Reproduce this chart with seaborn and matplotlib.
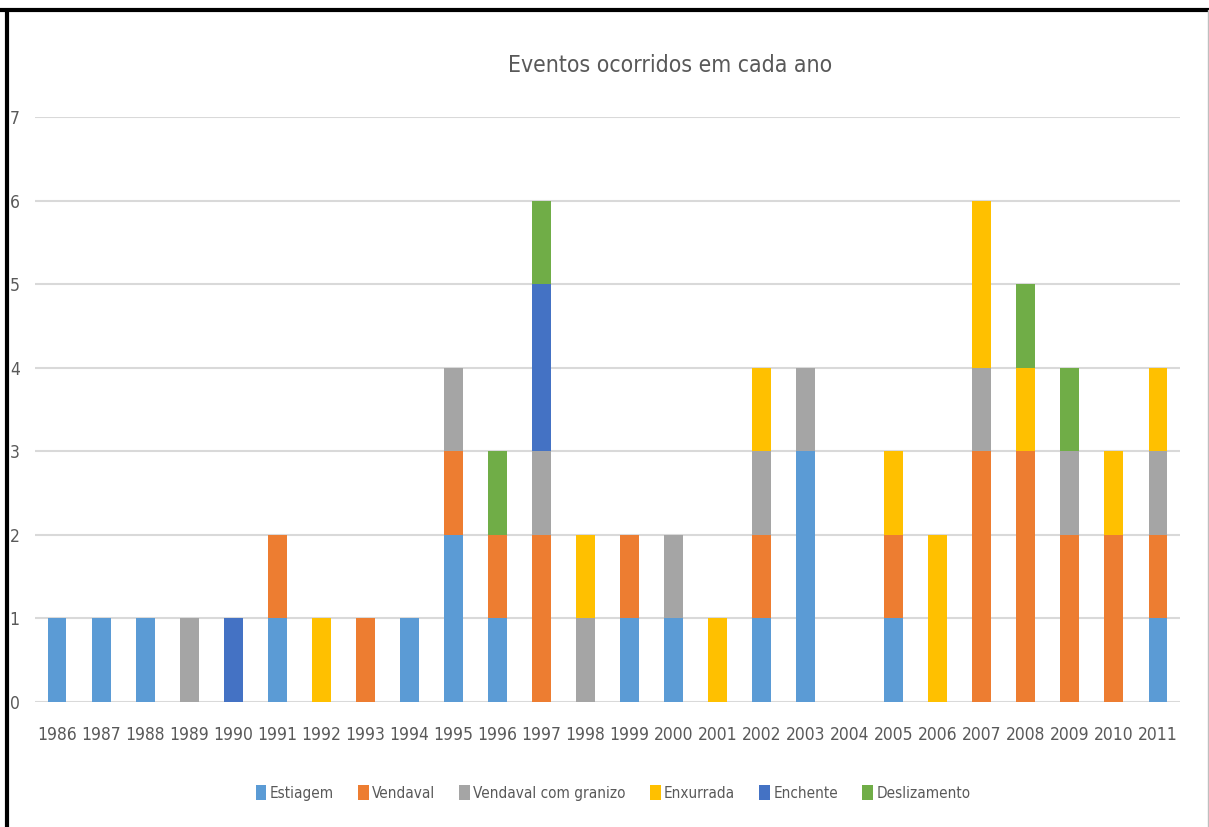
import matplotlib
matplotlib.use("Agg")
import matplotlib.pyplot as plt
import seaborn as sns
import pandas as pd
import numpy as np
from matplotlib.lines import Line2D
from matplotlib.patches import Patch

years = [str(y) for y in range(1986, 2012)]
series_names = ["Estiagem", "Vendaval", "Vendaval com granizo", "Enxurrada", "Enchente", "Deslizamento"]
estiagem     = [1,1,1,0,0,1,0,0,1,2,1,0,0,1,1,0,1,3,0,1,0,0,0,0,0,1]
vendaval     = [0,0,0,0,0,1,0,1,0,1,1,2,0,1,0,0,1,0,0,1,0,3,3,2,2,1]
granizo      = [0,0,0,1,0,0,0,0,0,1,0,1,1,0,1,0,1,1,0,0,0,1,0,1,0,1]
enxurrada    = [0,0,0,0,0,0,1,0,0,0,0,0,1,0,0,1,1,0,0,1,2,2,1,0,1,1]
enchente     = [0,0,0,0,1,0,0,0,0,0,0,2,0,0,0,0,0,0,0,0,0,0,0,0,0,0]
deslizamento = [0,0,0,0,0,0,0,0,0,0,1,1,0,0,0,0,0,0,0,0,0,0,1,1,0,0]
colors = ["#5B9BD5", "#ED7D31", "#A5A5A5", "#FFC000", "#4472C4", "#70AD47"]

sns.set_theme(style="white")
plt.rcParams['font.family'] = ['DejaVu Sans']
plt.rcParams['font.stretch'] = 'condensed'

df = pd.DataFrame({"Ano": years})
vals = [estiagem, vendaval, granizo, enxurrada, enchente, deslizamento]
cum = np.cumsum(np.array(vals), axis=0)

fig = plt.figure(figsize=(12.09, 8.27), dpi=100)
ax = fig.add_axes([35/1209, 1-702/827, (1180-35)/1209, (702-117)/827])

for i in range(len(series_names)-1, -1, -1):
    df["v"] = cum[i]
    sns.barplot(data=df, x="Ano", y="v", color=colors[i], width=0.43,
                saturation=1, ax=ax, linewidth=0, order=years)

ax.set_ylim(0, 7)
ax.set_xlim(-0.5, len(years)-0.5)
ax.set_yticks(range(0, 8))
ax.yaxis.grid(True, color="#D9D9D9", linewidth=1.5)
ax.set_axisbelow(True)
for s in ax.spines.values():
    s.set_visible(False)
ax.set_xlabel("")
ax.set_ylabel("")
ax.tick_params(axis="both", length=0, colors="#595959", labelsize=12.5)
ax.tick_params(axis="x", pad=17)
ax.tick_params(axis="y", pad=11)

fig.text(670/1209, 1-66/827, "Eventos ocorridos em cada ano", ha="center", va="center",
         fontsize=16.5, color="#595959")

handles = [Patch(facecolor=c, edgecolor="none") for c in colors]
fig.legend(handles, series_names, loc="center", bbox_to_anchor=(613/1209, 1-793/827),
           ncol=6, frameon=False, fontsize=11, handlelength=0.7, handleheight=1.1,
           handletextpad=0.2, columnspacing=1.6, labelcolor="#595959")

fig.add_artist(Line2D([0, 1], [1-10/827]*2, color="black", linewidth=3, transform=fig.transFigure))
fig.add_artist(Line2D([7/1209]*2, [0, 1-10/827], color="black", linewidth=3, transform=fig.transFigure))
fig.add_artist(Line2D([1207.5/1209]*2, [0, 1-10/827], color="#BFBFBF", linewidth=1, transform=fig.transFigure))

fig.savefig("out.png", dpi=100)
